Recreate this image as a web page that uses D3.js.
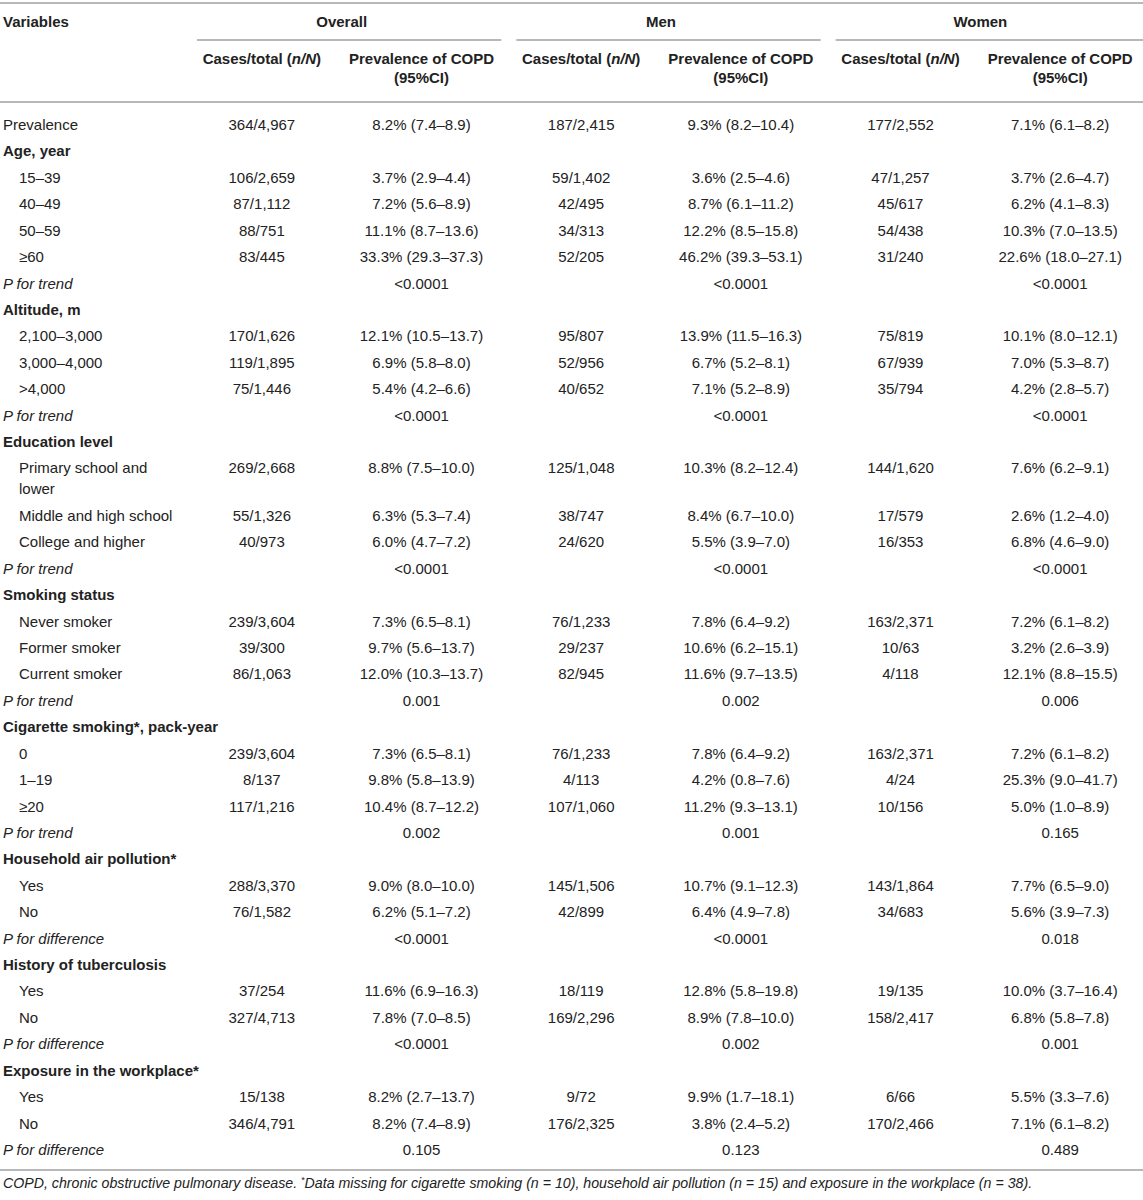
<!DOCTYPE html>
<html>
<head>
<meta charset="utf-8">
<script src="https://cdn.jsdelivr.net/npm/d3@7"></script>
<style>
  body { margin: 0; background: #fff; }
  svg text { font-family: "Liberation Sans", Arial, sans-serif; fill: #222; }
</style>
</head>
<body>
<div id="table"></div>
<script>
// groups and column heads
var groups = ["Overall", "Men", "Women"];
var subHeads = [["Cases/total (", "n/N", ")"], ["Prevalence of COPD", "(95%CI)"]];

// row labels, kind: t = plain, h = section heading, i = indented, p = P value row
var rowLabels = [
  "Prevalence", "Age, year", "15–39", "40–49", "50–59", "≥60", "P for trend",
  "Altitude, m", "2,100–3,000", "3,000–4,000", ">4,000", "P for trend",
  "Education level", "Primary school and|lower", "Middle and high school", "College and higher", "P for trend",
  "Smoking status", "Never smoker", "Former smoker", "Current smoker", "P for trend",
  "Cigarette smoking*, pack-year", "0", "1–19", "≥20", "P for trend",
  "Household air pollution*", "Yes", "No", "P for difference",
  "History of tuberculosis", "Yes", "No", "P for difference",
  "Exposure in the workplace*", "Yes", "No", "P for difference"
];
var rowKinds = [
  "t", "h", "i", "i", "i", "i", "p",
  "h", "i", "i", "i", "p",
  "h", "i", "i", "i", "p",
  "h", "i", "i", "i", "p",
  "h", "i", "i", "i", "p",
  "h", "i", "i", "p",
  "h", "i", "i", "p",
  "h", "i", "i", "p"
];

var overallCases = ["364/4,967", "", "106/2,659", "87/1,112", "88/751", "83/445", "",
  "", "170/1,626", "119/1,895", "75/1,446", "",
  "", "269/2,668", "55/1,326", "40/973", "",
  "", "239/3,604", "39/300", "86/1,063", "",
  "", "239/3,604", "8/137", "117/1,216", "",
  "", "288/3,370", "76/1,582", "",
  "", "37/254", "327/4,713", "",
  "", "15/138", "346/4,791", ""];
var overallPrev = ["8.2% (7.4–8.9)", "", "3.7% (2.9–4.4)", "7.2% (5.6–8.9)", "11.1% (8.7–13.6)", "33.3% (29.3–37.3)", "<0.0001",
  "", "12.1% (10.5–13.7)", "6.9% (5.8–8.0)", "5.4% (4.2–6.6)", "<0.0001",
  "", "8.8% (7.5–10.0)", "6.3% (5.3–7.4)", "6.0% (4.7–7.2)", "<0.0001",
  "", "7.3% (6.5–8.1)", "9.7% (5.6–13.7)", "12.0% (10.3–13.7)", "0.001",
  "", "7.3% (6.5–8.1)", "9.8% (5.8–13.9)", "10.4% (8.7–12.2)", "0.002",
  "", "9.0% (8.0–10.0)", "6.2% (5.1–7.2)", "<0.0001",
  "", "11.6% (6.9–16.3)", "7.8% (7.0–8.5)", "<0.0001",
  "", "8.2% (2.7–13.7)", "8.2% (7.4–8.9)", "0.105"];
var menCases = ["187/2,415", "", "59/1,402", "42/495", "34/313", "52/205", "",
  "", "95/807", "52/956", "40/652", "",
  "", "125/1,048", "38/747", "24/620", "",
  "", "76/1,233", "29/237", "82/945", "",
  "", "76/1,233", "4/113", "107/1,060", "",
  "", "145/1,506", "42/899", "",
  "", "18/119", "169/2,296", "",
  "", "9/72", "176/2,325", ""];
var menPrev = ["9.3% (8.2–10.4)", "", "3.6% (2.5–4.6)", "8.7% (6.1–11.2)", "12.2% (8.5–15.8)", "46.2% (39.3–53.1)", "<0.0001",
  "", "13.9% (11.5–16.3)", "6.7% (5.2–8.1)", "7.1% (5.2–8.9)", "<0.0001",
  "", "10.3% (8.2–12.4)", "8.4% (6.7–10.0)", "5.5% (3.9–7.0)", "<0.0001",
  "", "7.8% (6.4–9.2)", "10.6% (6.2–15.1)", "11.6% (9.7–13.5)", "0.002",
  "", "7.8% (6.4–9.2)", "4.2% (0.8–7.6)", "11.2% (9.3–13.1)", "0.001",
  "", "10.7% (9.1–12.3)", "6.4% (4.9–7.8)", "<0.0001",
  "", "12.8% (5.8–19.8)", "8.9% (7.8–10.0)", "0.002",
  "", "9.9% (1.7–18.1)", "3.8% (2.4–5.2)", "0.123"];
var womenCases = ["177/2,552", "", "47/1,257", "45/617", "54/438", "31/240", "",
  "", "75/819", "67/939", "35/794", "",
  "", "144/1,620", "17/579", "16/353", "",
  "", "163/2,371", "10/63", "4/118", "",
  "", "163/2,371", "4/24", "10/156", "",
  "", "143/1,864", "34/683", "",
  "", "19/135", "158/2,417", "",
  "", "6/66", "170/2,466", ""];
var womenPrev = ["7.1% (6.1–8.2)", "", "3.7% (2.6–4.7)", "6.2% (4.1–8.3)", "10.3% (7.0–13.5)", "22.6% (18.0–27.1)", "<0.0001",
  "", "10.1% (8.0–12.1)", "7.0% (5.3–8.7)", "4.2% (2.8–5.7)", "<0.0001",
  "", "7.6% (6.2–9.1)", "2.6% (1.2–4.0)", "6.8% (4.6–9.0)", "<0.0001",
  "", "7.2% (6.1–8.2)", "3.2% (2.6–3.9)", "12.1% (8.8–15.5)", "0.006",
  "", "7.2% (6.1–8.2)", "25.3% (9.0–41.7)", "5.0% (1.0–8.9)", "0.165",
  "", "7.7% (6.5–9.0)", "5.6% (3.9–7.3)", "0.018",
  "", "10.0% (3.7–16.4)", "6.8% (5.8–7.8)", "0.001",
  "", "5.5% (3.3–7.6)", "7.1% (6.1–8.2)", "0.489"];

var footNote = ["COPD, chronic obstructive pulmonary disease. ", "*", "Data missing for cigarette smoking (n = 10), household air pollution (n = 15) and exposure in the workplace (n = 38)."];

var columns = [overallCases, overallPrev, menCases, menPrev, womenCases, womenPrev];

var width = 1143, height = 1200;
var lineGap = 21, rowStep = 26.42;
var ruleColor = "#b8b8b8";

var svg = d3.select("#table").append("svg")
  .attr("width", width)
  .attr("height", height);

// column positions
var x = d3.scaleBand().domain(d3.range(columns.length)).range([182, 1140]);

// row positions: each row takes one step plus extra lines
var rowStart = [];
var acc = 0;
rowLabels.forEach(function(l) {
  rowStart.push(acc);
  acc += rowStep + (l.split("|").length - 1) * lineGap;
});
var y = d3.scaleLinear().domain([0, rowStep]).range([125, 125 + rowStep]);

// rules
svg.append("line").attr("x1", 0).attr("x2", width).attr("y1", 3).attr("y2", 3)
  .attr("stroke", ruleColor).attr("stroke-width", 2);
svg.append("line").attr("x1", 0).attr("x2", width).attr("y1", 102).attr("y2", 102)
  .attr("stroke", ruleColor).attr("stroke-width", 2);
svg.append("line").attr("x1", 0).attr("x2", width).attr("y1", 1170).attr("y2", 1170)
  .attr("stroke", ruleColor).attr("stroke-width", 2);

// header
svg.append("text").attr("x", 3).attr("y", 27)
  .style("font-size", "15px").style("font-weight", "bold").text("Variables");

var head = svg.append("g").selectAll("g").data(groups).enter().append("g");
head.append("text")
  .attr("x", (d, i) => (x(i * 2) + x(i * 2 + 1) + x.bandwidth()) / 2)
  .attr("y", 27)
  .attr("text-anchor", "middle")
  .style("font-size", "15px").style("font-weight", "bold")
  .text(d => d);
head.append("line")
  .attr("x1", (d, i) => x(i * 2) + 15)
  .attr("x2", (d, i) => i == groups.length - 1 ? width : x(i * 2 + 1) + x.bandwidth())
  .attr("y1", 40).attr("y2", 40)
  .attr("stroke", ruleColor).attr("stroke-width", 2);

d3.range(columns.length).forEach(function(c) {
  var cx = x(c) + x.bandwidth() / 2;
  var t = svg.append("text").attr("x", cx).attr("y", 64)
    .attr("text-anchor", "middle")
    .style("font-size", "15px").style("font-weight", "bold");
  if (c % 2 == 0) {
    var h = subHeads[0];
    t.append("tspan").text(h[0]);
    t.append("tspan").style("font-style", "italic").text(h[1]);
    t.append("tspan").text(h[2]);
  } else {
    t.text(subHeads[1][0]);
    svg.append("text").attr("x", cx).attr("y", 83)
      .attr("text-anchor", "middle")
      .style("font-size", "15px").style("font-weight", "bold")
      .text(subHeads[1][1]);
  }
});

// body rows
var rows = svg.append("g").selectAll("g").data(rowLabels).enter().append("g")
  .attr("transform", (d, i) => "translate(0," + (y(rowStart[i]) + 5) + ")");

rows.each(function(label, i) {
  var g = d3.select(this);
  var kind = rowKinds[i];
  var parts = label.split("|");
  parts.forEach(function(p, k) {
    g.append("text")
      .attr("x", kind == "i" ? 19 : 3)
      .attr("y", k * lineGap)
      .style("font-size", "15px")
      .style("font-weight", kind == "h" ? "bold" : "normal")
      .style("font-style", kind == "p" ? "italic" : "normal")
      .text(p);
  });
  columns.forEach(function(col, c) {
    if (!col[i]) return;
    g.append("text")
      .attr("x", x(c) + x.bandwidth() / 2)
      .attr("y", 0)
      .attr("text-anchor", "middle")
      .style("font-size", "15px")
      .text(col[i]);
  });
});

// footnote
var fn = svg.append("text").attr("x", 3).attr("y", 1188)
  .style("font-size", "14.2px").style("font-style", "italic");
fn.append("tspan").text(footNote[0]);
fn.append("tspan").attr("dy", -5).style("font-size", "9px").text(footNote[1]);
fn.append("tspan").attr("dy", 5).text(footNote[2]);
</script>
</body>
</html>
